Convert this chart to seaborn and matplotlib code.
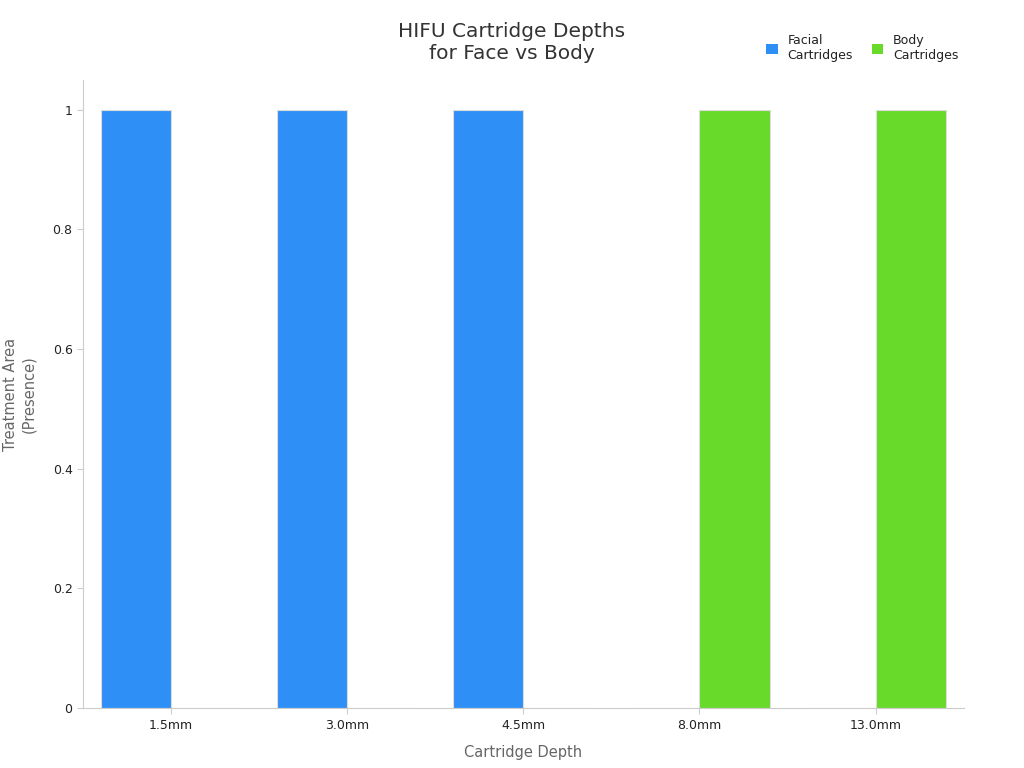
import matplotlib
matplotlib.use("Agg")
import matplotlib.pyplot as plt
import seaborn as sns
import pandas as pd
from matplotlib.patches import Patch

depths = ["1.5mm", "3.0mm", "4.5mm", "8.0mm", "13.0mm"]
facial = [1, 1, 1, 0, 0]
body = [0, 0, 0, 1, 1]
series = ["Facial\nCartridges", "Body\nCartridges"]
colors = ["#2e90f7", "#67da2a"]

df = pd.DataFrame({
    "depth": depths * 2,
    "value": facial + body,
    "series": [series[0]] * 5 + [series[1]] * 5,
})

fig = plt.figure(figsize=(10.24, 7.68), dpi=100)
ax = fig.add_axes([0.081, 0.078, 0.86, 0.818])
sns.barplot(data=df, x="depth", y="value", hue="series", palette=colors,
            saturation=1, width=0.8, ax=ax, edgecolor="#dddddd", linewidth=0.8,
            legend=False)
ax.set_ylim(0, 1.05)
ax.set_xlim(-0.5, 4.5)
ax.set_yticks([0, 0.2, 0.4, 0.6, 0.8, 1])
ax.set_yticklabels(["0", "0.2", "0.4", "0.6", "0.8", "1"])
ax.tick_params(labelsize=9, colors="#222222", length=4)
ax.tick_params(axis="both", color="#cccccc")
for s in ["top", "right"]:
    ax.spines[s].set_visible(False)
for s in ["left", "bottom"]:
    ax.spines[s].set_color("#cccccc")
ax.set_xlabel("Cartridge Depth", fontsize=10.5, color="#666666", labelpad=10)
ax.set_ylabel("Treatment Area\n(Presence)", fontsize=10.5, color="#666666", labelpad=12)
fig.suptitle("HIFU Cartridge Depths\nfor Face vs Body", fontsize=14.5, color="#333333", y=0.972)

handles = [Patch(facecolor=c) for c in colors]
fig.legend(handles, series, loc="upper right", bbox_to_anchor=(0.947, 0.97), ncol=2,
           frameon=False, fontsize=9, handlelength=0.9, handleheight=0.9,
           columnspacing=1.5, handletextpad=0.8, labelcolor="#222222")
fig.savefig("out.png", dpi=100)
